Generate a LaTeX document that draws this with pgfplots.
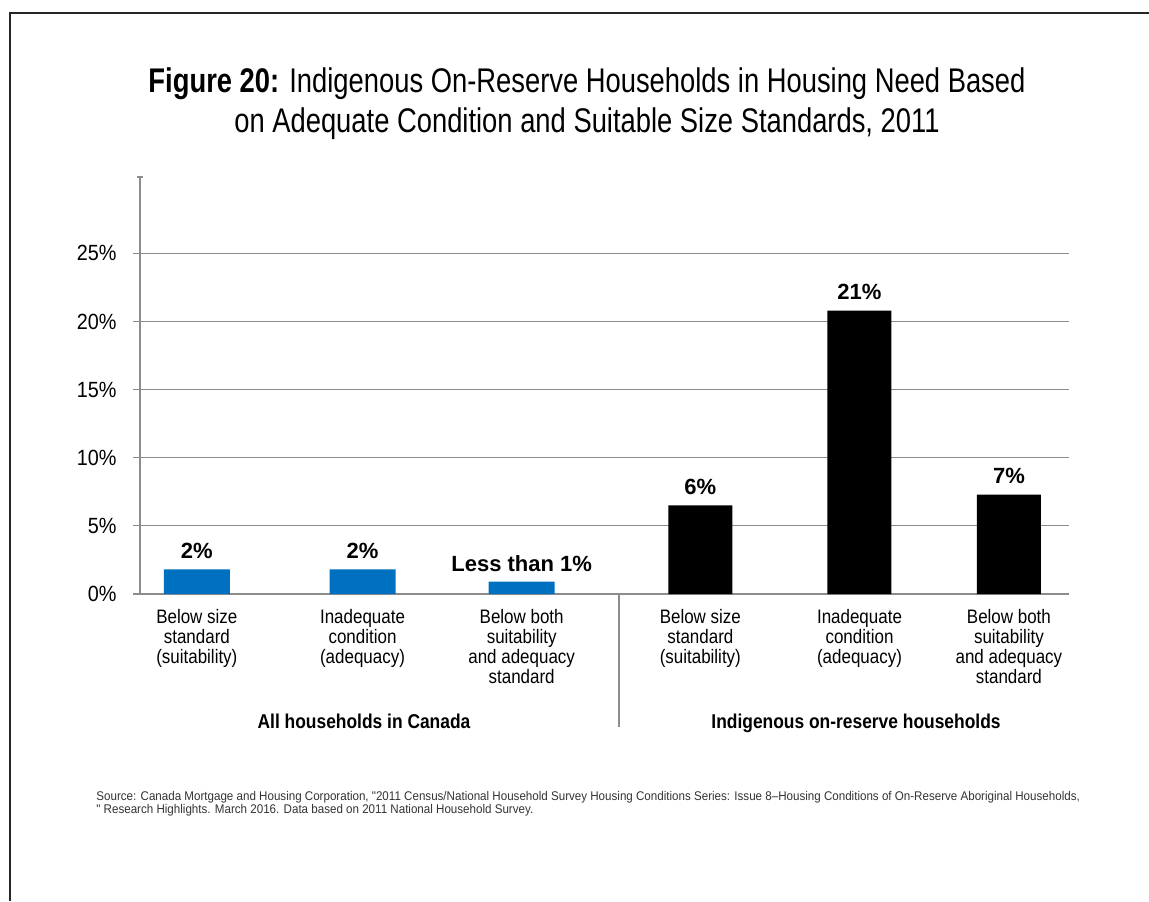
\documentclass[border=0pt]{standalone}
\usepackage{fontspec}
\setmainfont{Liberation Sans}
\newfontfamily\titlefont{Liberation Sans}[FakeStretch=0.8]
\newfontfamily\tickfont{Liberation Sans}[FakeStretch=0.9]
\newfontfamily\catfont{Liberation Sans}[FakeStretch=0.87]
\newfontfamily\srcfont{Liberation Sans}[FakeStretch=0.92]
\usepackage{pgfplots}
\pgfplotsset{compat=1.18}
\definecolor{barblue}{HTML}{0070C0}
\definecolor{axgray}{HTML}{8C8C8C}
\begin{document}
\begin{tikzpicture}
\path[use as bounding box] (0,0) rectangle (574.5pt,450.5pt);
\draw[line width=1pt, black!85] (5pt,0) -- (5pt,444pt) -- (574.5pt,444pt);
% title
\node[anchor=base, font=\titlefont\fontsize{17.1}{19}\selectfont, inner sep=0pt] at (293.5pt,404pt) {\textbf{Figure 20:} Indigenous On-Reserve Households in Housing Need Based};
\node[anchor=base, font=\titlefont\fontsize{17.1}{19}\selectfont, inner sep=0pt] at (293.5pt,384pt) {on Adequate Condition and Suitable Size Standards, 2011};
\begin{axis}[
  scale only axis,
  width=464.5pt, height=208.5pt,
  at={(70pt,153.5pt)}, anchor=south west,
  xmin=-0.35, xmax=5.37,
  ymin=0, ymax=30.6,
  axis x line=bottom, axis y line=left,
  axis line style={-, axgray, line width=0.6pt},
  ytick={0,5,10,15,20,25},
  yticklabels={0\%,5\%,10\%,15\%,20\%,25\%},
  yticklabel style={font=\tickfont\fontsize{11}{12}\selectfont, inner sep=0pt, xshift=-8pt},
  ymajorgrids,
  grid style={axgray, line width=0.6pt},
  tick align=outside,
  major tick length=3.5pt,
  y tick style={axgray, line width=0.6pt},
  extra y ticks={30.6},
  extra y tick labels={},
  extra y tick style={grid=none, tick align=center, major tick length=3pt},
  xtick={0,1.02,2,3.1,4.08,5},
  xticklabels={Below size\\standard\\(suitability),Inadequate\\condition\\(adequacy),Below both\\suitability\\and adequacy\\standard,Below size\\standard\\(suitability),Inadequate\\condition\\(adequacy),Below both\\suitability\\and adequacy\\standard},
  xticklabel style={align=center, font=\catfont\fontsize{9.75}{10}\selectfont, inner sep=0pt, yshift=-4pt},
  x tick style={draw=none},
  extra x ticks={0.49,1.5,2.6,3.6,4.58,5.37},
  extra x tick labels={},
  extra x tick style={grid=none, tick style={draw=axgray, line width=0.6pt}},
  clip=false,
  point meta=explicit symbolic,
  nodes near coords,
  nodes near coords style={font=\fontsize{11}{12}\selectfont\bfseries, anchor=south, inner sep=0pt, yshift=5pt},
]
\addplot[ybar, bar width=33pt, fill=barblue, draw=none] coordinates {
  (0,1.8) [2\%]
  (1.02,1.8) [2\%]
  (2,0.9) [Less than 1\%]
};
\addplot[ybar, bar width=32pt, fill=black, draw=none] coordinates {
  (3.1,6.5) [6\%]
  (4.08,20.8) [21\%]
  (5,7.3) [7\%]
};
\end{axis}
\draw[axgray, line width=0.6pt] (309.5pt,153.5pt) -- (309.5pt,87pt);
\node[anchor=base, font=\catfont\fontsize{10}{12}\selectfont\bfseries, inner sep=0pt] at (182pt,86.5pt) {All households in Canada};
\node[anchor=base, font=\catfont\fontsize{10}{12}\selectfont\bfseries, inner sep=0pt] at (428pt,86.5pt) {Indigenous on-reserve households};
\node[anchor=base west, align=left, font=\srcfont\fontsize{6.3}{6.5}\selectfont, text=black!80, inner sep=0pt] at (48pt,50.5pt) {Source: Canada Mortgage and Housing Corporation, "2011 Census/National Household Survey Housing Conditions Series: Issue 8–Housing Conditions of On-Reserve Aboriginal Households,};
\node[anchor=base west, align=left, font=\srcfont\fontsize{6.3}{6.5}\selectfont, text=black!80, inner sep=0pt] at (48pt,44pt) {" Research Highlights. March 2016. Data based on 2011 National Household Survey.};
\end{tikzpicture}
\end{document}
